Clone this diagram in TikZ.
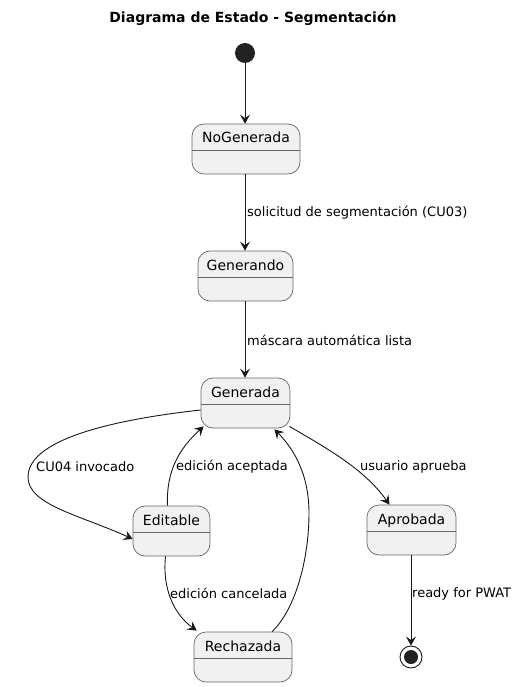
\documentclass[tikz,border=0pt]{standalone}
\usepackage{fontspec}
\setmainfont{DejaVu Sans}
\usetikzlibrary{arrows.meta}
\definecolor{stfill}{HTML}{F1F1F1}
\definecolor{stline}{HTML}{181818}
\definecolor{stborder}{HTML}{666666}
\definecolor{dot}{HTML}{222222}
\tikzset{
  st/.style={draw=stborder, line width=0.7pt, fill=stfill, rounded corners=12pt,
    minimum height=50pt, inner sep=0pt, text height=10pt, text depth=22pt,
    font=\fontsize{14}{16}\selectfont,
    path picture={\draw[stborder, line width=0.7pt]
      ([yshift=-26pt]path picture bounding box.north west) --
      ([yshift=-26pt]path picture bounding box.north east);}},
  tr/.style={draw=stline, line width=0.9pt, -{Stealth[length=9pt,width=10pt,inset=3.5pt]}},
  lbl/.style={font=\fontsize{13}{15}\selectfont, inner sep=0pt, anchor=west, text=black},
}
\begin{document}
\begin{tikzpicture}[x=1pt,y=-1pt]
\useasboundingbox (0,0) rectangle (520,687);
\node[font=\bfseries\fontsize{14}{16}\selectfont] (title) at (253,18) {Diagrama de Estado - Segmentación};

\node[circle, fill=dot, minimum size=20pt, inner sep=0pt] (start) at (245,53) {};
\node[st, minimum width=108pt] (nog) at (246,149) {NoGenerada};
\node[st, minimum width=95pt] (gnd) at (245.5,276) {Generando};
\node[st, minimum width=89pt] (gen) at (245.5,403) {Generada};
\node[st, minimum width=77pt] (edi) at (171.5,531) {Editable};
\node[st, minimum width=98pt] (rec) at (243,657) {Rechazada};
\node[st, minimum width=89pt] (apr) at (411.5,530) {Aprobada};
\node[circle, draw=stline, line width=0.9pt, fill=white, minimum size=22pt, inner sep=0pt] (end) at (411,657) {};
\node[circle, fill=dot, minimum size=14pt, inner sep=0pt] (endin) at (end.center) {};

\draw[tr] (start) -- (start |- nog.north);
\draw[tr] (nog.south -| start) -- (gnd.north -| start);
\draw[tr] (gnd.south -| start) -- (gen.north -| start);
\draw[tr] (apr.south -| end) -- (end.north);

\draw[tr] ([yshift=-7pt]gen.west) .. controls (110,420) and (28,440) .. (28,477)
  .. controls (28,505) and (80,515) .. ([yshift=-8pt]edi.west);
\draw[tr] ([xshift=-4pt]edi.north) .. controls (166,470) and (180,448) .. ([xshift=3pt,yshift=2pt]gen.south west);
\draw[tr] ([xshift=-6pt]edi.south) .. controls (162,590) and (175,615) .. ([xshift=3pt,yshift=1pt]rec.north west);
\draw[tr] ([xshift=29pt]rec.north) .. controls (295,610) and (309,560) .. (309,513)
  .. controls (309,470) and (290,445) .. ([xshift=-16pt,yshift=-1pt]gen.south east);
\draw[tr] ([xshift=-1pt,yshift=2pt]gen.south east) .. controls (330,450) and (365,470) .. ([xshift=-22pt]apr.north);

\node[lbl] (l1) at (247,213) {solicitud de segmentación (CU03)};
\node[lbl] (l2) at (247,340) {máscara automática lista};
\node[lbl] (l3) at (36,467) {CU04 invocado};
\node[lbl] (l4) at (176,467) {edición aceptada};
\node[lbl] (l5) at (170,593) {edición cancelada};
\node[lbl] (l6) at (360,467) {usuario aprueba};
\node[lbl] (l7) at (412,594) {ready for PWAT};
\end{tikzpicture}
\end{document}
